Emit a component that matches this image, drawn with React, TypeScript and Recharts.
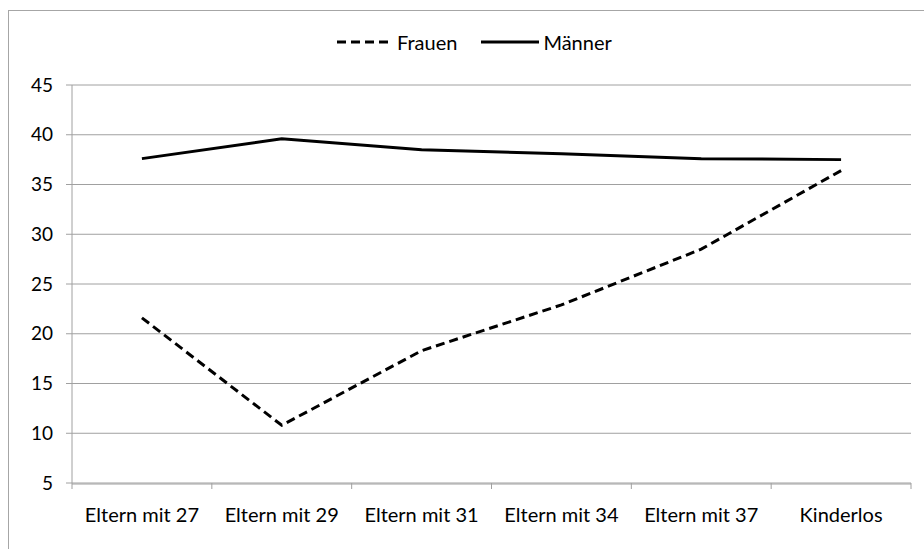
import React from "react";
import {
  LineChart,
  Line,
  XAxis,
  YAxis,
  CartesianGrid,
  Legend,
} from "recharts";

const categories = [
  "Eltern mit 27",
  "Eltern mit 29",
  "Eltern mit 31",
  "Eltern mit 34",
  "Eltern mit 37",
  "Kinderlos",
];
const frauen = [21.6, 10.8, 18.3, 22.9, 28.5, 36.4];
const maenner = [37.6, 39.6, 38.5, 38.1, 37.6, 37.5];
const yTicks = [5, 10, 15, 20, 25, 30, 35, 40, 45];
const boundaryTicks = [0, 1, 2, 3, 4, 5, 6];

const GRID = "#a0a0a0";
const FONT = "Lato, 'DejaVu Sans', sans-serif";

const data = categories.map((name, i) => ({
  name,
  Frauen: frauen[i],
  Männer: maenner[i],
}));

function ChartLegend() {
  return (
    <div
      style={{
        display: "flex",
        alignItems: "center",
        fontFamily: FONT,
        fontSize: 20,
        lineHeight: "22px",
        color: "#000",
        paddingLeft: 337,
      }}
    >
      <svg width={56} height={8}>
        <line x1={0} y1={4} x2={56} y2={4} stroke="#000" strokeWidth={3} strokeDasharray="9 5" />
      </svg>
      <span style={{ marginLeft: 4 }}>Frauen</span>
      <svg width={58} height={8} style={{ marginLeft: 24 }}>
        <line x1={0} y1={4} x2={58} y2={4} stroke="#000" strokeWidth={3} />
      </svg>
      <span style={{ marginLeft: 4 }}>Männer</span>
    </div>
  );
}

export default function App() {
  return (
    <div
      style={{
        position: "absolute",
        left: 0,
        top: 0,
        width: 924,
        height: 549,
        overflow: "hidden",
        background: "#fff",
      }}
    >
      <div
        style={{
          position: "absolute",
          left: 8,
          top: 10,
          width: 940,
          height: 560,
          borderLeft: "1.5px solid #a6a6a6",
          borderTop: "1.5px solid #a6a6a6",
        }}
      />
      <div style={{ position: "absolute", left: 0, top: 0 }}>
        <LineChart
          width={924}
          height={549}
          data={data}
          margin={{ top: 63, right: 13, bottom: 0, left: 0 }}
        >
          <CartesianGrid xAxisId="cat" vertical={false} stroke={GRID} strokeWidth={1} />
          {/* separate number axis: Excel puts tick marks between the categories */}
          <XAxis
            xAxisId="bounds"
            type="number"
            dataKey={() => 0}
            domain={[0, 6]}
            ticks={boundaryTicks}
            tick={{ fontSize: 0 }}
            tickFormatter={() => ""}
            axisLine={false}
            tickLine={{ stroke: GRID }}
            tickSize={6}
            height={1}
            allowDataOverflow
          />
          <XAxis
            xAxisId="cat"
            dataKey="name"
            scale="band"
            axisLine={{ stroke: GRID }}
            tickLine={false}
            tickSize={6}
            tickMargin={18}
            height={65}
            interval={0}
            tick={{ fill: "#000", fontSize: 20, fontFamily: FONT }}
          />
          <YAxis
            domain={[5, 45]}
            ticks={yTicks}
            width={72}
            axisLine={{ stroke: GRID }}
            tickLine={{ stroke: GRID }}
            tickSize={6}
            tickMargin={13}
            tick={{ fill: "#000", fontSize: 19, fontFamily: FONT }}
          />
          <Legend
            verticalAlign="top"
            content={<ChartLegend />}
            wrapperStyle={{ top: 31, left: 0, width: 924 }}
          />
          <Line
            xAxisId="cat"
            type="linear"
            dataKey="Frauen"
            stroke="#000"
            strokeWidth={3}
            strokeDasharray="9 5"
            dot={false}
            isAnimationActive={false}
          />
          <Line
            xAxisId="cat"
            type="linear"
            dataKey="Männer"
            stroke="#000"
            strokeWidth={3}
            dot={false}
            isAnimationActive={false}
          />
        </LineChart>
      </div>
    </div>
  );
}
